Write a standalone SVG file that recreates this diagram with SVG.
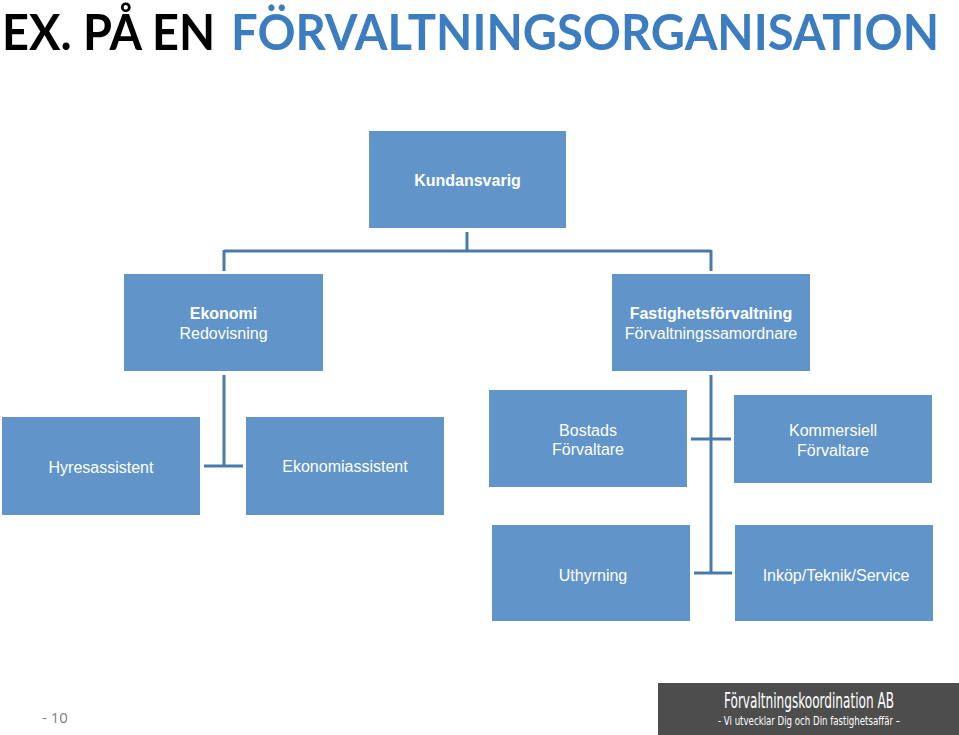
<svg xmlns="http://www.w3.org/2000/svg" width="959" height="735" viewBox="0 0 959 735">
<style>
.box{fill:#6195c9;}
.t{font-family:"Liberation Sans",Arial,sans-serif;font-size:16px;fill:#ffffff;text-anchor:middle;}
.b{font-weight:bold;}
.con{stroke:#4a7aab;stroke-width:3;fill:none;}
.ttl{font-family:Lato,"Open Sans",sans-serif;font-weight:bold;font-size:45px;}
.ft{font-family:"DejaVu Sans Condensed","Liberation Sans",sans-serif;fill:#ffffff;text-anchor:middle;}
</style>
<rect width="959" height="735" fill="#ffffff"/>
<g id="title">
<text class="ttl" transform="translate(2,50) scale(1,1.1)" x="0" y="0" fill="#000000" textLength="213" lengthAdjust="spacingAndGlyphs">EX. PÅ EN</text>
<text class="ttl" transform="translate(231,50) scale(1,1.1)" x="0" y="0" fill="#3b7dc0" textLength="708" lengthAdjust="spacingAndGlyphs">FÖRVALTNINGSORGANISATION</text>
</g>
<g id="connectors">
<path class="con" d="M467,232 V251 M224,251 H711 M224,250 V271 M711,250 V271"/>
<path class="con" d="M224,375 V466 M204,466 H243"/>
<path class="con" d="M711,375 V573 M691,439 H731 M694,573 H732"/>
</g>
<g id="kundansvarig"><rect class="box" x="369" y="131" width="197" height="97"/><text class="t b" x="467.5" y="186">Kundansvarig</text></g>
<g id="ekonomi"><rect class="box" x="124" y="274" width="199" height="97"/><text class="t b" x="223.5" y="319">Ekonomi</text><text class="t" x="223.5" y="339">Redovisning</text></g>
<g id="fastighet"><rect class="box" x="612" y="274" width="198" height="97"/><text class="t b" x="711" y="319">Fastighetsförvaltning</text><text class="t" x="711" y="339">Förvaltningssamordnare</text></g>
<g id="hyresassistent"><rect class="box" x="2" y="417" width="198" height="98"/><text class="t" x="101" y="473">Hyresassistent</text></g>
<g id="ekonomiassistent"><rect class="box" x="246" y="417" width="198" height="98"/><text class="t" x="345" y="472">Ekonomiassistent</text></g>
<g id="bostads"><rect class="box" x="489" y="390" width="198" height="97"/><text class="t" x="588" y="436">Bostads</text><text class="t" x="588" y="455">Förvaltare</text></g>
<g id="kommersiell"><rect class="box" x="734" y="395" width="198" height="88"/><text class="t" x="833" y="436">Kommersiell</text><text class="t" x="833" y="456">Förvaltare</text></g>
<g id="uthyrning"><rect class="box" x="492" y="525" width="198" height="96"/><text class="t" x="593" y="581">Uthyrning</text></g>
<g id="inkop"><rect class="box" x="735" y="525" width="198" height="96"/><text class="t" x="836" y="581">Inköp/Teknik/Service</text></g>
<g id="footer">
<rect x="658" y="683" width="301" height="52" fill="#4d4d4d"/>
<text class="ft" transform="translate(809,708) scale(1,1.7)" x="0" y="0" font-size="12" textLength="170" lengthAdjust="spacingAndGlyphs">Förvaltningskoordination AB</text>
<text class="ft" transform="translate(809,725) scale(1,1.5)" x="0" y="0" font-size="8" textLength="182" lengthAdjust="spacingAndGlyphs">- Vi utvecklar Dig och Din fastighetsaffär –</text>
</g>
<text x="42" y="723" font-family="'Open Sans',sans-serif" font-size="15" fill="#7f7f7f">- 10</text>
</svg>
